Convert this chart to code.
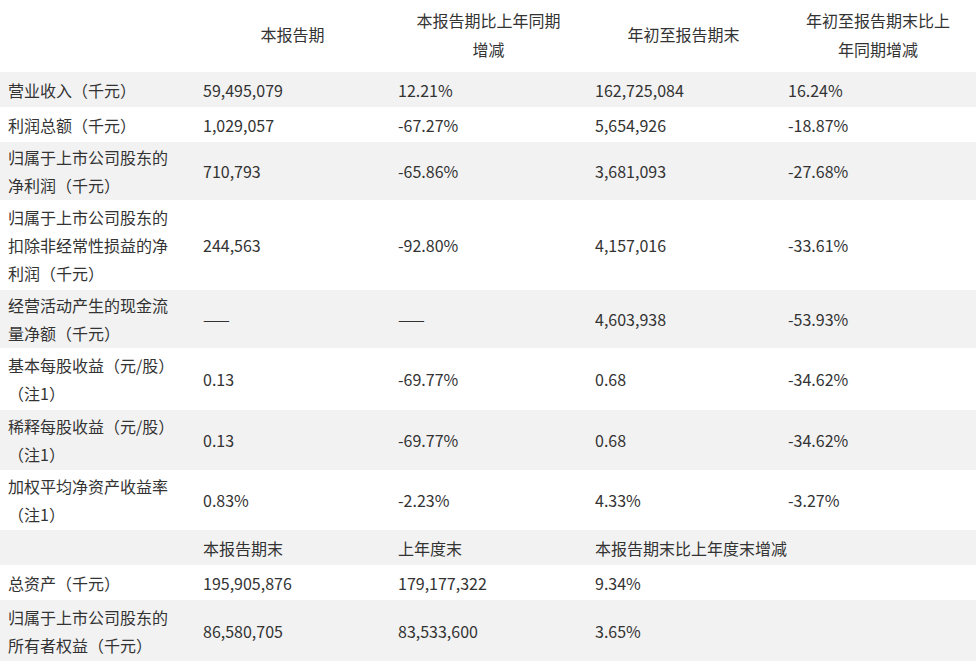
<!DOCTYPE html>
<html><head><meta charset="utf-8">
<script src="https://cdn.jsdelivr.net/npm/chart.js"></script>
<style>
html,body{margin:0;padding:0;background:#fff;width:976px;height:661px;overflow:hidden}
table{border-collapse:collapse;width:976px;font-family:"Noto Sans CJK SC",sans-serif;font-size:16px;color:#333;table-layout:fixed}
td{padding:0 8px;line-height:28px;vertical-align:middle}
td:first-child{padding-right:22px}
tr.g td{background:#f2f2f2}
th{font-weight:normal;line-height:29px;padding:3px 20px 6px}
</style></head><body>
<table id="t"><colgroup><col style="width:195px"><col style="width:195px"><col style="width:197px"><col style="width:193px"><col style="width:196px"></colgroup></table>
<script>
const headers = ["", "本报告期", "本报告期比上年同期增减", "年初至报告期末", "年初至报告期末比上年同期增减"];
const categories = ["营业收入（千元）","利润总额（千元）","归属于上市公司股东的净利润（千元）","归属于上市公司股东的扣除非经常性损益的净利润（千元）","经营活动产生的现金流量净额（千元）","基本每股收益（元/股）（注1）","稀释每股收益（元/股）（注1）","加权平均净资产收益率（注1）"];
const currentPeriod = ["59,495,079","1,029,057","710,793","244,563","——","0.13","0.13","0.83%"];
const currentChange = ["12.21%","-67.27%","-65.86%","-92.80%","——","-69.77%","-69.77%","-2.23%"];
const ytd = ["162,725,084","5,654,926","3,681,093","4,157,016","4,603,938","0.68","0.68","4.33%"];
const ytdChange = ["16.24%","-18.87%","-27.68%","-33.61%","-53.93%","-34.62%","-34.62%","-3.27%"];
const subHeaders = ["", "本报告期末", "上年度末", "本报告期末比上年度末增减"];
const balCategories = ["总资产（千元）","归属于上市公司股东的所有者权益（千元）"];
const balEnd = ["195,905,876","86,580,705"];
const balPrev = ["179,177,322","83,533,600"];
const balChange = ["9.34%","3.65%"];
const heights = [35,35,58,90,58,62,60,60,35,35,61];
const t = document.getElementById('t');
let h = '<tr style="height:72px">' + headers.map(x=>'<th style="text-align:center">'+x+'</th>').join('') + '</tr>';
let r = 0;
categories.forEach((c,i)=>{ h += `<tr class="${r%2==0?'g':''}" style="height:${heights[r]}px"><td>${c}</td><td>${currentPeriod[i]}</td><td>${currentChange[i]}</td><td>${ytd[i]}</td><td>${ytdChange[i]}</td></tr>`; r++; });
h += `<tr class="g" style="height:${heights[r]}px">` + subHeaders.map((x,k)=>'<td'+(k==3?' colspan="2"':'')+'>'+x+'</td>').join('') + '</tr>'; r++;
balCategories.forEach((c,i)=>{ h += `<tr class="${r%2==0?'g':''}" style="height:${heights[r]}px"><td>${c}</td><td>${balEnd[i]}</td><td>${balPrev[i]}</td><td>${balChange[i]}</td><td></td></tr>`; r++; });
t.innerHTML += h;
</script></body></html>
